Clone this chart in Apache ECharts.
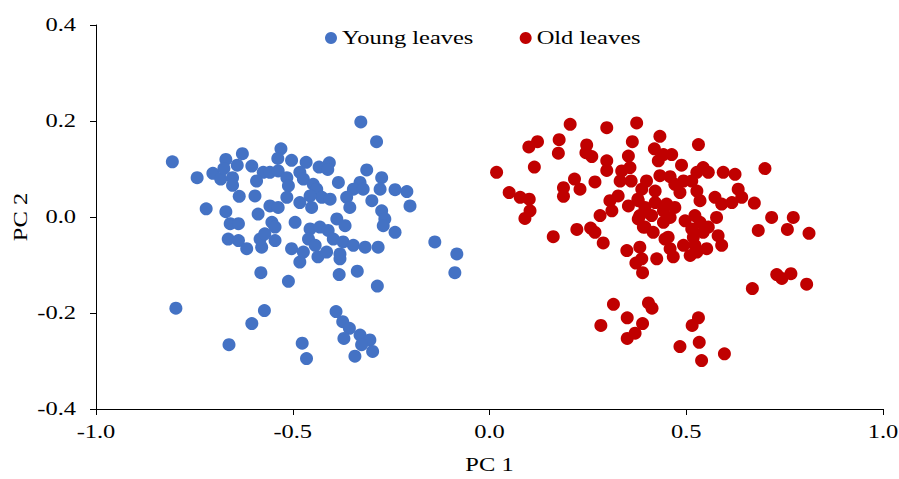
<!DOCTYPE html>
<html>
<head>
<meta charset="utf-8">
<script src="https://cdn.jsdelivr.net/npm/echarts@6/dist/echarts.min.js"></script>
<style>
  html, body { margin: 0; padding: 0; background: #ffffff; }
  #chart { width: 899px; height: 479px; }
</style>
</head>
<body>
<div id="chart"></div>
<script>
// PCA scores: principal component 1 and 2 for each leaf sample
const seriesNames = ['Young leaves', 'Old leaves'];

const youngPC1 = [
  -0.806, -0.743, -0.703, -0.683, -0.670, -0.675, -0.653, -0.653, -0.641, -0.628,
  -0.636, -0.720, -0.670, -0.659, -0.638, -0.664, -0.638, -0.617, -0.579, -0.482,
  -0.436, -0.581, -0.511, -0.797, -0.572, -0.604, -0.662, -0.476, -0.465, -0.327,
  -0.287, -0.210, -0.202, -0.139, -0.083, -0.088, -0.285, -0.382, -0.336, -0.380,
  -0.390, -0.373, -0.356, -0.370, -0.329, -0.304, -0.325, -0.297, -0.342,
  -0.530, -0.538, -0.503, -0.466, -0.433, -0.407, -0.411, -0.604, -0.575, -0.592,
  -0.558, -0.537, -0.515, -0.511, -0.482, -0.473, -0.448, -0.439, -0.426, -0.405,
  -0.456, -0.482, -0.452, -0.515, -0.596, -0.558, -0.537, -0.588, -0.553, -0.545,
  -0.494, -0.384, -0.312, -0.274, -0.278, -0.240, -0.329, -0.346, -0.363, -0.355,
  -0.321, -0.299, -0.274, -0.266, -0.270, -0.240, -0.388, -0.367, -0.456, -0.431,
  -0.410, -0.460, -0.443, -0.397, -0.372, -0.346, -0.316, -0.283, -0.583, -0.571,
  -0.545, -0.503, -0.473, -0.414, -0.380
];
const youngPC2 = [
  0.115, 0.082, 0.091, 0.079, 0.120, 0.101, 0.082, 0.066, 0.108, 0.132,
  0.043, 0.017, 0.011, -0.014, -0.014, -0.046, -0.049, -0.066, -0.063, -0.094,
  -0.083, -0.116, -0.134, -0.190, -0.195, -0.222, -0.266, -0.263, -0.295, 0.198,
  0.157, 0.053, 0.023, -0.052, -0.077, -0.116, -0.144, -0.120, -0.113, -0.087,
  -0.197, -0.218, -0.232, -0.253, -0.246, -0.256, -0.266, -0.280, -0.290,
  0.142, 0.122, 0.118, 0.114, 0.104, 0.113, 0.099, 0.106, 0.093, 0.075,
  0.093, 0.096, 0.082, 0.065, 0.093, 0.079, 0.068, 0.058, 0.041, 0.037,
  0.044, 0.030, 0.020, 0.041, 0.044, 0.023, 0.020, 0.006, -0.011, -0.021,
  -0.011, 0.072, 0.098, 0.082, 0.058, 0.057, 0.072, 0.058, 0.041, 0.020,
  0.058, 0.034, 0.013, -0.004, -0.018, -0.032, -0.004, -0.018, -0.025, -0.021,
  -0.028, -0.046, -0.059, -0.046, -0.052, -0.059, -0.063, -0.063, -0.046, -0.035,
  -0.049, -0.066, -0.073, -0.073, -0.077
];

const oldPC1 = [
  0.205, 0.298, 0.374, 0.122, 0.100, 0.177, 0.175, 0.247, 0.245, 0.260,
  0.363, 0.018, 0.114, 0.298, 0.298, 0.353, 0.357, 0.336, 0.332, 0.360,
  0.216, 0.188, 0.188, 0.230, 0.268, 0.050, 0.078, 0.101, 0.103, 0.090,
  0.306, 0.327, 0.311, 0.281, 0.353, 0.377, 0.382, 0.162, 0.222, 0.257,
  0.268, 0.289, 0.349, 0.382, 0.387, 0.372, 0.389, 0.378, 0.391, 0.315,
  0.283, 0.350, 0.389, 0.370, 0.350, 0.404,
  0.419, 0.442, 0.463, 0.429, 0.531, 0.488, 0.543, 0.556, 0.527, 0.594,
  0.624, 0.399, 0.433, 0.459, 0.471, 0.493, 0.514, 0.484, 0.421, 0.387,
  0.378, 0.395, 0.421, 0.450, 0.471, 0.527, 0.535, 0.573, 0.590, 0.616,
  0.632, 0.412, 0.442, 0.459, 0.395, 0.416, 0.442, 0.497, 0.522, 0.535,
  0.556, 0.577, 0.514, 0.543, 0.581, 0.590, 0.518, 0.493, 0.522, 0.552,
  0.446, 0.459, 0.425,
  0.433, 0.700, 0.641, 0.673, 0.717, 0.772,
  0.683, 0.757, 0.812, 0.730, 0.743, 0.766, 0.806, 0.668, 0.413, 0.531,
  0.515, 0.484, 0.533, 0.539, 0.597, 0.454, 0.467, 0.527, 0.510
];
const oldPC2 = [
  0.193, 0.186, 0.196, 0.157, 0.146, 0.161, 0.133, 0.150, 0.134, 0.126,
  0.157, 0.093, 0.104, 0.117, 0.097, 0.127, 0.103, 0.096, 0.075, 0.075,
  0.079, 0.061, 0.043, 0.058, 0.073, 0.051, 0.041, 0.037, 0.013, -0.003,
  0.034, 0.044, 0.013, 0.003, 0.023, 0.037, 0.003, -0.041, -0.026, -0.023,
  -0.032, -0.054, -0.070, -0.063, -0.087, -0.096, -0.116, -0.004, -0.021, -0.182,
  -0.226, -0.210, -0.222, -0.242, -0.253, -0.179,
  0.142, 0.130, 0.130, 0.117, 0.151, 0.108, 0.103, 0.093, 0.093, 0.093,
  0.089, 0.075, 0.086, 0.084, 0.068, 0.075, 0.075, 0.051, 0.054, 0.058,
  0.034, 0.020, 0.030, 0.027, 0.020, 0.054, 0.034, 0.041, 0.027, 0.030,
  0.058, 0.003, 0.013, -0.001, -0.021, -0.032, -0.011, -0.008, 0.003, -0.011,
  -0.021, -0.001, -0.025, -0.032, -0.039, -0.059, -0.042, -0.059, -0.059, -0.066,
  -0.046, -0.066, -0.087,
  0.168, 0.101, 0.041, 0.029, -0.001, -0.001,
  -0.028, -0.026, -0.034, -0.120, -0.128, -0.118, -0.140, -0.149, -0.190, -0.210,
  -0.226, -0.270, -0.261, -0.299, -0.285, -0.042, -0.083, -0.073, -0.080
];

const xTickValues = [-1.0, -0.5, 0.0, 0.5, 1.0];
const yTickValues = [-0.4, -0.2, 0.0, 0.2, 0.4];
const axisTitles = { x: 'PC 1', y: 'PC 2' };

const colors = ['#4472C4', '#C00000'];
const FONT = '"Liberation Serif", "Times New Roman", serif';
const TEXT_STRETCH = 1.36;

function pairs(xs, ys) {
  return xs.map((v, i) => [v, ys[i]]);
}

const chart = echarts.init(document.getElementById('chart'), null, { renderer: 'svg' });

const axisCommon = {
  type: 'value',
  splitLine: { show: false },
  axisLine: { show: true, onZero: false, lineStyle: { color: '#000000', width: 1 } },
  axisTick: { show: true, length: 6, lineStyle: { color: '#000000', width: 1 } },
  axisLabel: {
    color: '#000000', fontFamily: FONT, fontSize: 18,
    formatter: v => v.toFixed(1)
  },
  nameLocation: 'middle',
  nameTextStyle: { color: '#000000', fontFamily: FONT, fontSize: 18 }
};

chart.setOption({
  animation: false,
  color: colors,
  grid: { left: 96, right: 16, top: 25, bottom: 67, containLabel: false },
  legend: {
    data: seriesNames,
    left: 325, top: 29, padding: 0,
    icon: 'circle', itemWidth: 12, itemHeight: 12, itemGap: 81,
    textStyle: { color: '#000000', fontFamily: FONT, fontSize: 18 }
  },
  xAxis: Object.assign({}, axisCommon, {
    min: xTickValues[0], max: xTickValues[xTickValues.length - 1],
    interval: xTickValues[1] - xTickValues[0],
    name: axisTitles.x, nameGap: 47,
    axisLabel: Object.assign({}, axisCommon.axisLabel, { margin: 14 })
  }),
  yAxis: Object.assign({}, axisCommon, {
    min: yTickValues[0], max: yTickValues[yTickValues.length - 1],
    interval: yTickValues[1] - yTickValues[0],
    name: axisTitles.y, nameGap: 66, nameRotate: 90,
    axisLabel: Object.assign({}, axisCommon.axisLabel, { margin: 20 })
  }),
  series: [
    {
      name: seriesNames[0], type: 'scatter', symbol: 'circle', symbolSize: 13,
      itemStyle: { color: colors[0], opacity: 1 },
      data: pairs(youngPC1, youngPC2)
    },
    {
      name: seriesNames[1], type: 'scatter', symbol: 'circle', symbolSize: 13,
      itemStyle: { color: colors[1], opacity: 1 },
      data: pairs(oldPC1, oldPC2)
    }
  ]
});

// Serif labels are set in a wide cut: stretch each text run along its
// baseline, keeping its anchor point fixed.
function widenText() {
  const svg = document.querySelector('#chart svg');
  if (!svg) return;
  svg.querySelectorAll('text').forEach(t => {
    if (t.getAttribute('data-wide')) return;
    const x = parseFloat(t.getAttribute('x') || '0');
    const tr = t.getAttribute('transform') || '';
    t.setAttribute('transform', (tr + ' translate(' + x + ' 0) scale(' + TEXT_STRETCH + ' 1) translate(' + (-x) + ' 0)').trim());
    t.setAttribute('data-wide', '1');
  });
}
widenText();
chart.on('finished', widenText);
</script>
</body>
</html>
